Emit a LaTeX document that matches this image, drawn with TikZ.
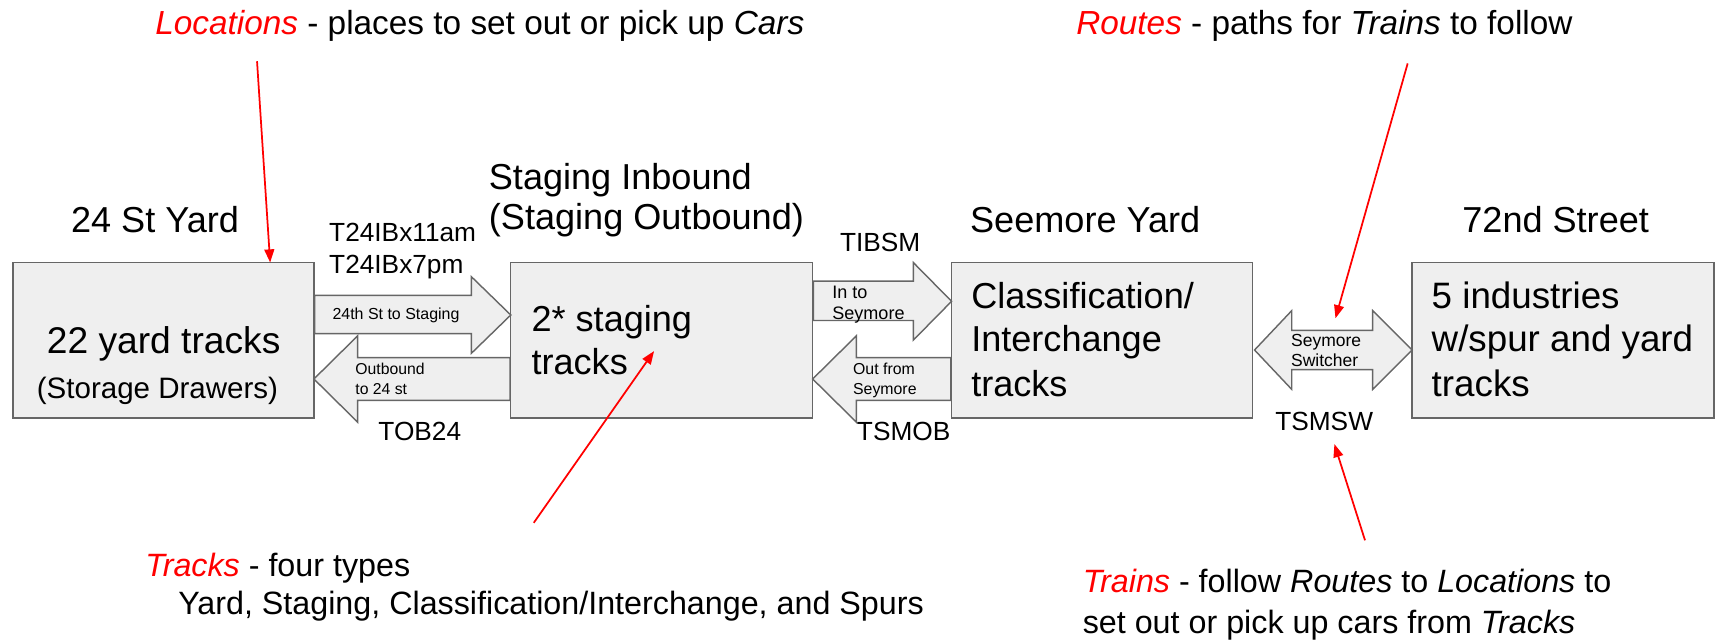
\documentclass[tikz,border=0pt]{standalone}
\usepackage{fontspec}
\setmainfont{Liberation Sans}
\usetikzlibrary{arrows.meta,calc}
\definecolor{boxfill}{HTML}{EFEFEF}
\definecolor{boxline}{HTML}{666666}
\definecolor{annred}{HTML}{FF0000}
\newcommand{\fsz}[1]{\fontsize{#1}{#1}\selectfont}
\tikzset{
  box/.style={draw=boxline, fill=boxfill, line width=1.3pt, inner sep=0pt},
  barrow/.style={draw=boxline, fill=boxfill, line width=1.3pt, line join=miter},
  txt/.style={inner sep=0pt, outer sep=0pt, anchor=base west},
  title/.style={txt, font=\fsz{33}},
  big/.style={txt, font=\fsz{33}},
  route/.style={txt, font=\fsz{24}},
  ann/.style={txt, font=\fsz{29.5}},
  anntop/.style={txt, font=\fsz{30.5}},
  redarrow/.style={draw=annred, line width=1.6pt, -{Triangle[length=12pt,width=9pt]}}
}
\begin{document}
\begin{tikzpicture}[x=1pt,y=-1pt]
\useasboundingbox (0,0) rectangle (1568,586);

% boxes
\node[box, minimum width=275pt, minimum height=142pt] (b1) at (149.5,311) {};
\node[box, minimum width=276pt, minimum height=142pt] (b2) at (605,311) {};
\node[box, minimum width=275pt, minimum height=142pt] (b3) at (1007.5,311) {};
\node[box, minimum width=276pt, minimum height=142pt] (b4) at (1429,311) {};

% block arrows
\draw[barrow] (b1.east |- 0,270) -- (431,270) -- (431,253) -- (467,288) -- (431,323) -- (431,305) -- (b1.east |- 0,305) -- cycle;
\draw[barrow] (b2.west |- 0,327) -- (327,327) -- (327,307) -- (287,346.5) -- (327,386) -- (327,366) -- (b2.west |- 0,366) -- cycle;
\draw[barrow] (b2.east |- 0,257) -- (835,257) -- (835,240) -- (870,275.5) -- (835,311) -- (835,293) -- (b2.east |- 0,293) -- cycle;
\draw[barrow] (b3.west |- 0,327) -- (783,327) -- (783,307) -- (743,346.5) -- (783,386) -- (783,366) -- (b3.west |- 0,366) -- cycle;
\draw[barrow] (1147,320) -- (1181,284) -- (1181,302) -- (1255,302) -- (1255,284) -- (1291,320) -- (1255,356) -- (1255,338) -- (1181,338) -- (1181,356) -- cycle;

% titles
\node[title] (t1) at (65,213) {24 St Yard};
\node[title] (t2a) at (447,173) {Staging Inbound};
\node[title] (t2b) at (447,210) {(Staging Outbound)};
\node[title] (t3) at (887,213) {Seemore Yard};
\node[title] (t4) at (1337,213) {72nd Street};

% box texts
\node[inner sep=0pt, anchor=base, font=\fsz{34}] (b1a) at (149.6,323) {22 yard tracks};
\node[inner sep=0pt, anchor=base, font=\fsz{27}] (b1b) at (144,364) {(Storage Drawers)};
\node[big] (b2a) at (486,303) {2* staging};
\node[big] (b2b) at (486,342) {tracks};
\node[big] (b3a) at (888,282.5) {Classification/};
\node[big] (b3b) at (888,321.5) {Interchange};
\node[big] (b3c) at (888,362.5) {tracks};
\node[big, font=\fsz{33.6}] (b4a) at (1309,282.5) {5 industries};
\node[big, font=\fsz{33.6}] (b4b) at (1309,321.5) {w/spur and yard};
\node[big, font=\fsz{33.6}] (b4c) at (1309,362.5) {tracks};

% route names
\node[route] (r1a) at (301,221) {T24IBx11am};
\node[route] (r1b) at (301,250) {T24IBx7pm};
\node[route] (r2) at (346,403) {TOB24};
\node[route] (r3) at (768,230) {TIBSM};
\node[route] (r4) at (783.5,403) {TSMOB};
\node[route] (r5) at (1166,394) {TSMSW};

% arrow labels
\node[txt, font=\fsz{14.6}] (l1) at (304,292) {24th St to Staging};
\node[txt, font=\fsz{14.4}] (l2a) at (325,342.4) {Outbound};
\node[txt, font=\fsz{14.4}] (l2b) at (325,360.7) {to 24 st};
\node[txt, font=\fsz{16.5}] (l3a) at (761,272.5) {In to};
\node[txt, font=\fsz{16.5}] (l3b) at (761,292.3) {Seymore};
\node[txt, font=\fsz{14.5}] (l4a) at (780,342.4) {Out from};
\node[txt, font=\fsz{14.5}] (l4b) at (780,360.7) {Seymore};
\node[txt, font=\fsz{16}] (l5a) at (1180.5,316.6) {Seymore};
\node[txt, font=\fsz{16}] (l5b) at (1180.5,335.5) {Switcher};

% annotations
\node[anntop] (aloc) at (142,31.5) {\textcolor{annred}{\textit{Locations}} - places to set out or pick up \textit{Cars}};
\node[anntop] (arou) at (984,32) {\textcolor{annred}{\textit{Routes}} - paths for \textit{Trains} to follow};
\node[ann] (atra) at (133,527) {\textcolor{annred}{\textit{Tracks}} - four types};
\node[ann] (atrb) at (163,562) {Yard, Staging, Classification/Interchange, and Spurs};
\node[ann] (atna) at (990,542) {\textcolor{annred}{\textit{Trains}} - follow \textit{Routes} to \textit{Locations} to};
\node[ann] (atnb) at (990,579) {set out or pick up cars from \textit{Tracks}};

% red pointer lines
\coordinate (locS) at (235,56);
\coordinate (locT) at (247,240);
\coordinate (rouS) at (1287,58);
\coordinate (rouT) at (1221,291);
\coordinate (trkS) at (488,478);
\coordinate (trkT) at (598,321);
\coordinate (trnS) at (1248,494);
\coordinate (trnT) at (1220,406);
\draw[redarrow] (locS) -- (locT);
\draw[redarrow] (rouS) -- (rouT);
\draw[redarrow] (trkS) -- (trkT);
\draw[redarrow] (trnS) -- (trnT);
\end{tikzpicture}
\end{document}
